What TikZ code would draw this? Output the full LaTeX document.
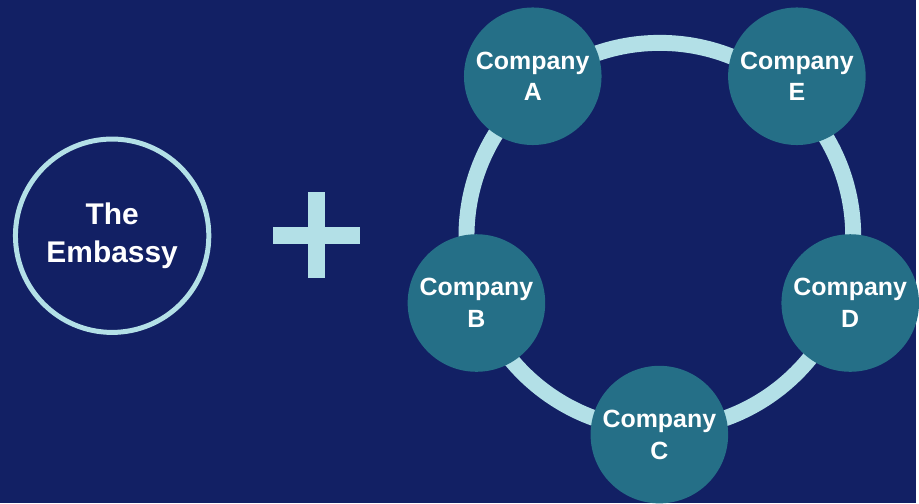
\documentclass[tikz,border=0pt]{standalone}
\usepackage{fontspec}
\setmainfont{Liberation Sans}
\usepackage{tikz}
\usetikzlibrary{positioning}
\definecolor{navy}{HTML}{122064}
\definecolor{pale}{HTML}{B3E0E7}
\definecolor{teal}{HTML}{256F87}

\begin{document}
\begin{tikzpicture}
	[x=1pt, y=-1pt, inner sep=0pt,
	embassy/.style	= {circle, draw=pale, line width=5pt, minimum size=194pt, text=white, align=center, font=\bfseries\fontsize{30}{39}\selectfont},
	company/.style	= {circle, fill=teal, minimum size=138pt, text=white, align=center, font=\bfseries\fontsize{25}{32}\selectfont},
	ring/.style	= {draw=pale, line width=16pt},
	plusbar/.style	= {fill=pale}]
	
	\fill [navy] (0,0) rectangle (919,505);
	
	\node at (112.5, 236.5)	[embassy]	(emb)	{The\\Embassy};
	
	% plus sign
	\coordinate (plus) at (317.5, 236);
	\fill [plusbar] ([xshift=-44pt, yshift=8.5pt]plus) rectangle ([xshift=44pt, yshift=-8.5pt]plus);
	\fill [plusbar] ([xshift=-8.5pt, yshift=43pt]plus) rectangle ([xshift=8.5pt, yshift=-43pt]plus);
	
	\coordinate (hub) at (662, 237);
	\draw [ring] (hub) circle (194pt);
	
	\node at (534.5, 76.5)	[company]	(coa)	{Company\\A};
	\node at (799.5, 76.5)	[company]	(coe)	{Company\\E};
	\node at (478, 304)		[company]	(cob)	{Company\\B};
	\node at (853, 304)		[company]	(cod)	{Company\\D};
	\node at (661.5, 436)	[company]	(coc)	{Company\\C};
\end{tikzpicture}
\end{document}
